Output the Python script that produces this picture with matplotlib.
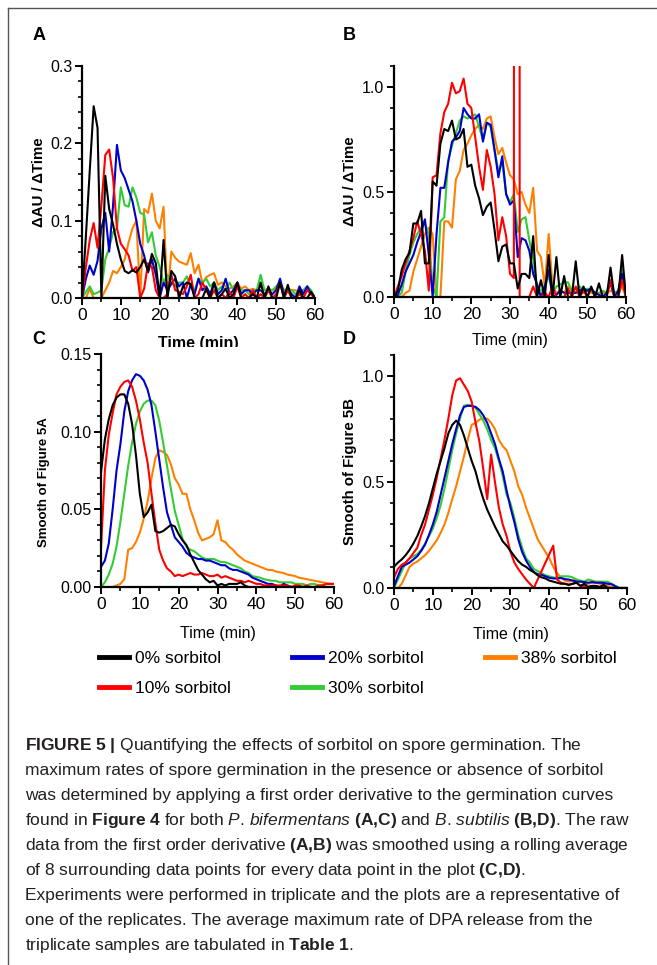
import numpy as np
import matplotlib
matplotlib.use("Agg")
import matplotlib.pyplot as plt
from matplotlib.lines import Line2D
from matplotlib.ticker import MultipleLocator, FormatStrFormatter
from matplotlib.transforms import Bbox, TransformedBbox

plt.rcParams['font.family'] = ['Liberation Sans', 'DejaVu Sans']
plt.rcParams['mathtext.fontset'] = 'custom'
plt.rcParams['mathtext.rm'] = 'Liberation Sans'
plt.rcParams['mathtext.it'] = 'Liberation Sans:italic'
plt.rcParams['mathtext.bf'] = 'Liberation Sans:bold'

W, H = 657, 965

time = np.arange(0, 61)  # minutes, one reading per minute

labels = ['0% sorbitol', '10% sorbitol', '20% sorbitol', '30% sorbitol', '38% sorbitol']
colors = ['#000000', '#ff0000', '#0000cc', '#33cc33', '#ff8000']

# --- A: first order derivative, P. bifermentans
a_0 = [0.0, 0.08, 0.165, 0.248, 0.22, 0.0, 0.158, 0.115, 0.095, 0.07,
       0.05, 0.035, 0.032, 0.036, 0.033, 0.04, 0.05, 0.035, 0.057, 0.045,
       0.0, 0.075, 0.0, 0.035, 0.028, 0.0, 0.015, 0.02, 0.018, 0.0,
       0.0, 0.0, 0.012, 0.0, 0.02, 0.0, 0.005, 0.012, 0.0, 0.005,
       0.02, 0.0, 0.0, 0.0, 0.005, 0.0, 0.02, 0.0, 0.015, 0.0,
       0.0, 0.02, 0.0, 0.017, 0.0, 0.0, 0.01, 0.0, 0.0, 0.008, 0.0]
a_10 = [0.0, 0.04, 0.075, 0.097, 0.065, 0.12, 0.185, 0.192, 0.155, 0.09,
        0.07, 0.063, 0.055, 0.035, 0.04, 0.0, 0.012, 0.045, 0.04, 0.01,
        0.0, 0.0, 0.005, 0.03, 0.01, 0.008, 0.005, 0.015, 0.03, 0.0,
        0.005, 0.02, 0.01, 0.0, 0.01, 0.0, 0.005, 0.0, 0.008, 0.0,
        0.015, 0.0, 0.005, 0.0, 0.01, 0.0, 0.005, 0.0, 0.01, 0.0,
        0.005, 0.02, 0.0, 0.01, 0.0, 0.0, 0.005, 0.0, 0.01, 0.005, 0.0]
a_20 = [0.0, 0.025, 0.042, 0.03, 0.048, 0.09, 0.11, 0.06, 0.12, 0.198,
        0.165, 0.155, 0.14, 0.125, 0.1, 0.07, 0.055, 0.033, 0.05, 0.03,
        0.0, 0.02, 0.01, 0.018, 0.025, 0.015, 0.02, 0.0, 0.018, 0.005,
        0.025, 0.01, 0.015, 0.005, 0.02, 0.005, 0.01, 0.025, 0.005, 0.01,
        0.02, 0.005, 0.01, 0.01, 0.005, 0.01, 0.01, 0.005, 0.01, 0.005,
        0.01, 0.025, 0.005, 0.01, 0.005, 0.0, 0.015, 0.005, 0.015, 0.005, 0.0]
a_30 = [0.0, 0.008, 0.015, 0.005, 0.007, 0.01, 0.05, 0.065, 0.085, 0.09,
        0.143, 0.12, 0.118, 0.143, 0.13, 0.11, 0.108, 0.072, 0.085, 0.055,
        0.04, 0.02, 0.03, 0.02, 0.015, 0.02, 0.02, 0.028, 0.015, 0.01,
        0.025, 0.02, 0.025, 0.015, 0.02, 0.01, 0.015, 0.01, 0.02, 0.01,
        0.015, 0.01, 0.01, 0.005, 0.01, 0.01, 0.03, 0.01, 0.01, 0.01,
        0.015, 0.02, 0.01, 0.01, 0.01, 0.005, 0.01, 0.01, 0.015, 0.01, 0.0]
a_38 = [0.0, 0.0, 0.012, 0.0, 0.0, 0.0, 0.01, 0.02, 0.035, 0.032,
        0.04, 0.05, 0.072, 0.09, 0.1, 0.0, 0.115, 0.11, 0.135, 0.1,
        0.09, 0.118, 0.0, 0.06, 0.052, 0.047, 0.045, 0.043, 0.058, 0.032,
        0.043, 0.019, 0.027, 0.03, 0.032, 0.017, 0.02, 0.015, 0.012, 0.015,
        0.02, 0.012, 0.015, 0.01, 0.012, 0.01, 0.015, 0.01, 0.012, 0.01,
        0.012, 0.015, 0.01, 0.012, 0.01, 0.01, 0.008, 0.01, 0.015, 0.005, 0.0]

# --- B: first order derivative, B. subtilis
b_0 = [0.0, 0.03, 0.13, 0.18, 0.21, 0.35, 0.35, 0.41, 0.16, 0.16,
       0.55, 0.53, 0.73, 0.8, 0.79, 0.84, 0.75, 0.76, 0.8, 0.62,
       0.63, 0.53, 0.47, 0.39, 0.43, 0.45, 0.32, 0.17, 0.24, 0.25,
       0.16, 0.16, 0.04, 0.11, 0.11, 0.09, 0.29, 0.0, 0.08, 0.0,
       0.2, 0.0, 0.19, 0.0, 0.1, 0.0, 0.0, 0.17, 0.0, 0.05,
       0.0, 0.05, 0.0, 0.065, 0.0, 0.0, 0.14, 0.0, 0.0, 0.2, 0.0]
# 10% has an off-scale spike between 31 and 32.5 min
b_10_time = list(range(0, 32)) + [31.3, 32.4, 32.5] + list(range(33, 61))
b_10 = [0.0, 0.05, 0.1, 0.16, 0.22, 0.28, 0.36, 0.3, 0.22, 0.03,
        0.57, 0.58, 0.78, 0.88, 0.92, 1.02, 0.97, 0.98, 1.04, 0.92,
        0.9, 0.76, 0.62, 0.51, 0.7, 0.62, 0.49, 0.27, 0.38, 0.29,
        0.11, 0.09,
        15.0, 15.0, 0.0,
        0.0, 0.0, 0.0, 0.05, 0.0, 0.0, 0.02,
        0.0, 0.05, 0.0, 0.0, 0.0, 0.04, 0.0, 0.05, 0.0, 0.03,
        0.0, 0.04, 0.0, 0.0, 0.0, 0.0, 0.08, 0.0, 0.0, 0.08, 0.0]
b_20 = [0.0, 0.01, 0.06, 0.12, 0.16, 0.2, 0.26, 0.31, 0.37, 0.2,
        0.0, 0.3, 0.52, 0.52, 0.64, 0.74, 0.76, 0.79, 0.9, 0.87,
        0.85, 0.85, 0.87, 0.74, 0.83, 0.82, 0.7, 0.57, 0.67, 0.49,
        0.44, 0.46, 0.19, 0.28, 0.27, 0.22, 0.11, 0.06, 0.0, 0.05,
        0.13, 0.0, 0.01, 0.03, 0.02, 0.02, 0.02, 0.02, 0.03, 0.04,
        0.03, 0.04, 0.02, 0.01, 0.0, 0.02, 0.065, 0.0, 0.03, 0.11, 0.0]
b_30 = [0.0, 0.0, 0.02, 0.12, 0.2, 0.26, 0.3, 0.33, 0.35, 0.3,
        0.05, 0.0, 0.36, 0.38, 0.65, 0.72, 0.78, 0.84, 0.86, 0.85,
        0.86, 0.87, 0.81, 0.75, 0.83, 0.81, 0.7, 0.6, 0.64, 0.49,
        0.45, 0.49, 0.31, 0.37, 0.38, 0.27, 0.18, 0.05, 0.03, 0.05,
        0.1, 0.02, 0.05, 0.06, 0.07, 0.07, 0.03, 0.04, 0.05, 0.03,
        0.04, 0.03, 0.02, 0.02, 0.03, 0.02, 0.08, 0.02, 0.03, 0.13, 0.0]
b_38 = [0.0, 0.0, 0.0, 0.02, 0.03, 0.12, 0.18, 0.24, 0.3, 0.33,
        0.3, 0.0, 0.0, 0.36, 0.36, 0.33, 0.56, 0.6, 0.7, 0.73,
        0.77, 0.8, 0.82, 0.8, 0.85, 0.86, 0.76, 0.68, 0.71, 0.64,
        0.58, 0.56, 0.49, 0.5, 0.44, 0.4, 0.52, 0.22, 0.19, 0.05,
        0.3, 0.05, 0.02, 0.03, 0.02, 0.05, 0.03, 0.02, 0.03, 0.02,
        0.03, 0.02, 0.02, 0.01, 0.02, 0.02, 0.03, 0.02, 0.02, 0.05, 0.0]

# --- C: rolling average of A
c_0 = [0.074, 0.095, 0.108, 0.117, 0.122, 0.124, 0.124, 0.118, 0.105, 0.085,
       0.06, 0.045, 0.048, 0.053, 0.036, 0.035, 0.036, 0.038, 0.04, 0.039,
       0.034, 0.03, 0.027, 0.021, 0.016, 0.011, 0.008, 0.005, 0.003, 0.004,
       0.001, 0.002, 0.001, 0.002, 0.002, 0.002, 0.003, 0.001, 0.0, 0.0,
       0.0, 0.0, 0.0, 0.0, 0.0, 0.0, 0.0, 0.0, 0.0, 0.0,
       0.0, 0.0, 0.0, 0.0, 0.0, 0.0, 0.0, 0.0, 0.0, 0.0, 0.0]
c_10 = [0.025, 0.075, 0.098, 0.112, 0.124, 0.129, 0.132, 0.133, 0.129, 0.12,
        0.108, 0.093, 0.08, 0.06, 0.041, 0.024, 0.017, 0.012, 0.01, 0.007,
        0.008, 0.007, 0.008, 0.009, 0.008, 0.008, 0.009, 0.008, 0.007, 0.007,
        0.008, 0.006, 0.007, 0.006, 0.005, 0.004, 0.004, 0.003, 0.004, 0.003,
        0.002, 0.002, 0.001, 0.001, 0.001, 0.001, 0.001, 0.001, 0.001, 0.0,
        0.001, 0.001, 0.0, 0.001, 0.0, 0.0, 0.001, 0.001, 0.002, 0.002, 0.002]
c_20 = [0.013, 0.017, 0.028, 0.05, 0.075, 0.092, 0.113, 0.126, 0.133, 0.137,
        0.136, 0.133, 0.127, 0.117, 0.1, 0.082, 0.064, 0.048, 0.04, 0.032,
        0.029, 0.026, 0.022, 0.02, 0.019, 0.018, 0.018, 0.017, 0.017, 0.016,
        0.015, 0.014, 0.014, 0.012, 0.011, 0.011, 0.01, 0.009, 0.008, 0.006,
        0.005, 0.004, 0.003, 0.002, 0.002, 0.001, 0.0, 0.002, 0.001, 0.0,
        0.0, 0.0, 0.0, 0.0, 0.0, 0.0, 0.0, 0.0, 0.0, 0.0, 0.0]
c_30 = [0.0, 0.003, 0.008, 0.015, 0.026, 0.042, 0.06, 0.078, 0.093, 0.105,
        0.113, 0.118, 0.12, 0.12, 0.117, 0.107, 0.093, 0.078, 0.063, 0.049,
        0.04, 0.031, 0.026, 0.024, 0.023, 0.021, 0.019, 0.018, 0.018, 0.018,
        0.017, 0.016, 0.016, 0.015, 0.014, 0.013, 0.012, 0.01, 0.009, 0.007,
        0.0065, 0.006, 0.005, 0.0045, 0.004, 0.004, 0.003, 0.003, 0.003, 0.003,
        0.002, 0.002, 0.002, 0.001, 0.002, 0.002, 0.001, 0.001, 0.0, 0.0, 0.0]
c_38 = [0.0, 0.0, 0.0, 0.0, 0.001, 0.002, 0.005, 0.024, 0.025, 0.029,
        0.035, 0.044, 0.055, 0.07, 0.083, 0.088, 0.087, 0.085, 0.079, 0.07,
        0.066, 0.06, 0.06, 0.05, 0.043, 0.035, 0.03, 0.031, 0.032, 0.034,
        0.043, 0.03, 0.029, 0.026, 0.024, 0.021, 0.019, 0.017, 0.016, 0.015,
        0.014, 0.013, 0.012, 0.011, 0.011, 0.01, 0.0095, 0.009, 0.008, 0.0075,
        0.007, 0.006, 0.0055, 0.005, 0.0045, 0.004, 0.0035, 0.003, 0.0025, 0.002, 0.002]

# --- D: rolling average of B
d_0 = [0.1, 0.12, 0.135, 0.155, 0.18, 0.21, 0.245, 0.29, 0.34, 0.4,
       0.47, 0.54, 0.6, 0.66, 0.73, 0.77, 0.79, 0.77, 0.72, 0.66,
       0.6, 0.55, 0.48, 0.42, 0.37, 0.33, 0.29, 0.255, 0.22, 0.2,
       0.175, 0.15, 0.127, 0.11, 0.1, 0.085, 0.075, 0.06, 0.05, 0.045,
       0.035, 0.03, 0.025, 0.02, 0.02, 0.015, 0.02, 0.025, 0.01, 0.02,
       0.005, 0.01, 0.01, 0.005, 0.015, 0.0, 0.0, 0.0, 0.0, 0.0, 0.0]
d_10 = [0.05, 0.09, 0.11, 0.12, 0.14, 0.165, 0.19, 0.25, 0.3, 0.37,
        0.44, 0.52, 0.61, 0.7, 0.8, 0.91, 0.98, 0.99, 0.96, 0.93,
        0.88, 0.78, 0.69, 0.56, 0.42, 0.63, 0.5, 0.38, 0.3, 0.245,
        0.17, 0.12, 0.09, 0.065, 0.04, 0.02, 0.0, 0.04, 0.08, 0.12,
        0.16, 0.2, 0.04, 0.025, 0.02, 0.015, 0.02, 0.025, 0.01, 0.01,
        0.005, 0.01, 0.005, 0.005, 0.01, 0.0, 0.0, 0.0, 0.0, 0.0, 0.0]
d_20 = [0.008, 0.055, 0.1, 0.11, 0.12, 0.135, 0.15, 0.175, 0.205, 0.25,
        0.3, 0.36, 0.44, 0.52, 0.6, 0.68, 0.75, 0.815, 0.855, 0.86,
        0.86, 0.855, 0.84, 0.815, 0.78, 0.73, 0.68, 0.61, 0.55, 0.46,
        0.38, 0.31, 0.23, 0.17, 0.13, 0.1, 0.075, 0.065, 0.062, 0.055,
        0.048, 0.045, 0.045, 0.047, 0.042, 0.04, 0.035, 0.03, 0.03, 0.028,
        0.025, 0.028, 0.025, 0.025, 0.024, 0.02, 0.018, 0.008, 0.0, 0.0, 0.0]
d_30 = [0.0, 0.04, 0.08, 0.12, 0.14, 0.15, 0.16, 0.18, 0.21, 0.245,
        0.28, 0.33, 0.39, 0.47, 0.56, 0.65, 0.73, 0.8, 0.86, 0.865,
        0.86, 0.85, 0.82, 0.79, 0.75, 0.7, 0.66, 0.6, 0.53, 0.44,
        0.4, 0.33, 0.25, 0.19, 0.14, 0.12, 0.09, 0.08, 0.07, 0.06,
        0.055, 0.05, 0.047, 0.055, 0.055, 0.055, 0.05, 0.04, 0.035, 0.03,
        0.04, 0.035, 0.03, 0.03, 0.03, 0.03, 0.02, 0.01, 0.0, 0.0, 0.0]
d_38 = [0.0, 0.0, 0.02, 0.06, 0.1, 0.115, 0.125, 0.14, 0.155, 0.175,
        0.2, 0.225, 0.26, 0.3, 0.355, 0.42, 0.48, 0.55, 0.62, 0.7,
        0.77, 0.78, 0.795, 0.8, 0.8, 0.78, 0.75, 0.7, 0.67, 0.65,
        0.6, 0.55, 0.48, 0.44, 0.38, 0.33, 0.28, 0.23, 0.2, 0.17,
        0.14, 0.1, 0.07, 0.05, 0.035, 0.03, 0.035, 0.04, 0.03, 0.025,
        0.02, 0.025, 0.025, 0.02, 0.015, 0.01, 0.005, 0.0, 0.0, 0.0, 0.0]

caption_lines = [
    r"$\mathbf{FIGURE\ 5\ |}$ Quantifying the effects of sorbitol on spore germination. The",
    "maximum rates of spore germination in the presence or absence of sorbitol",
    "was determined by applying a first order derivative to the germination curves",
    r"found in $\mathbf{Figure\ 4}$ for both $\mathit{P}$. $\mathit{bifermentans}$ $\mathbf{(A{,}C)}$ and "
    r"$\mathit{B}$. $\mathit{subtilis}$ $\mathbf{(B{,}D)}$. The raw",
    r"data from the first order derivative $\mathbf{(A{,}B)}$ was smoothed using a rolling average",
    r"of 8 surrounding data points for every data point in the plot $\mathbf{(C{,}D)}$.",
    "Experiments were performed in triplicate and the plots are a representative of",
    "one of the replicates. The average maximum rate of DPA release from the",
    r"triplicate samples are tabulated in $\mathbf{Table\ 1}$.",
]


def px_axes(fig, left, top, right, bottom):
    return fig.add_axes([left / W, 1 - bottom / H, (right - left) / W, (bottom - top) / H])


def style_axes(ax, ymax, ymajor, yminor, yfmt):
    ax.set_xlim(0, 60)
    ax.set_ylim(0, ymax)
    ax.xaxis.set_major_locator(MultipleLocator(10))
    ax.xaxis.set_minor_locator(MultipleLocator(5))
    ax.yaxis.set_major_locator(MultipleLocator(ymajor))
    ax.yaxis.set_minor_locator(MultipleLocator(yminor))
    ax.yaxis.set_major_formatter(FormatStrFormatter(yfmt))
    for side in ['top', 'right']:
        ax.spines[side].set_visible(False)
    for side in ['left', 'bottom']:
        ax.spines[side].set_linewidth(1.6)
    ax.tick_params(which='major', direction='out', length=5, width=1.4, pad=2)
    ax.tick_params(which='minor', direction='out', length=3, width=1.2)
    ax.tick_params(axis='x', labelsize=12.5)
    ax.tick_params(axis='y', labelsize=11.5)
    ax.patch.set_alpha(0)


def draw_series(ax, series, times_list):
    # draw from highest concentration up so black ends on top
    for ys, ts, c in reversed(list(zip(series, times_list, colors))):
        ax.plot(ts, ys, color=c, lw=1.5, clip_on=True)


fig = plt.figure(figsize=(W / 100, H / 100), dpi=100)

ax_a = px_axes(fig, 82, 66, 315, 298)
ax_b = px_axes(fig, 394, 66, 626, 297)
ax_c = px_axes(fig, 101, 354, 334, 587)
ax_d = px_axes(fig, 394, 355, 627, 588)

draw_series(ax_a, [a_0, a_10, a_20, a_30, a_38], [time] * 5)
draw_series(ax_b, [b_0, b_10, b_20, b_30, b_38], [time, b_10_time, time, time, time])
draw_series(ax_c, [c_0, c_10, c_20, c_30, c_38], [time] * 5)
draw_series(ax_d, [d_0, d_10, d_20, d_30, d_38], [time] * 5)

style_axes(ax_a, 0.3, 0.1, 0.02, '%.1f')
style_axes(ax_b, 1.1, 0.5, 0.1, '%.1f')
style_axes(ax_c, 0.15, 0.05, 0.01, '%.2f')
style_axes(ax_d, 1.1, 0.5, 0.1, '%.1f')

# y labels (label coords give the right-hand edge of the rotated text)
ax_a.set_ylabel('ΔAU / ΔTime', fontsize=10.8, fontweight='bold')
ax_a.yaxis.set_label_coords(-0.155, 0.5)
ax_b.set_ylabel('ΔAU / ΔTime', fontsize=10.8, fontweight='bold')
ax_b.yaxis.set_label_coords(-0.16, 0.5)
ax_c.set_ylabel('Smooth of Figure 5A', fontsize=9.5, fontweight='bold')
ax_c.yaxis.set_label_coords(-0.219, 0.45)
ax_d.set_ylabel('Smooth of Figure 5B', fontsize=10.8, fontweight='bold')
ax_d.yaxis.set_label_coords(-0.159, 0.5)

# x labels; the one under A is partly hidden by panel C in the original
xl = ax_a.set_xlabel('Time (min)', fontsize=11.5, fontweight='bold')
ax_a.xaxis.set_label_coords(0.5, -0.163)
xl.set_clip_box(TransformedBbox(Bbox([[0, 1 - 347 / H], [1, 1]]), fig.transFigure))
xl.set_clip_on(True)
ax_b.set_xlabel('Time (min)', fontsize=11.5)
ax_b.xaxis.set_label_coords(0.5, -0.156)
ax_c.set_xlabel('Time (min)', fontsize=11.5)
ax_c.xaxis.set_label_coords(0.5, -0.167)
ax_d.set_xlabel('Time (min)', fontsize=11.5)
ax_d.xaxis.set_label_coords(0.5, -0.167)

# panel letters
for letter, (x, y) in zip('ABCD', [(33, 35), (343, 35), (32, 339), (343, 339)]):
    fig.text(x / W, 1 - y / H, letter, fontsize=13, fontweight='bold', va='center')

handles = [Line2D([], [], color=c, lw=3.5) for c in colors]
fig.legend(handles, labels, loc='upper left', bbox_to_anchor=(99 / W, 1 - 651 / H),
           ncol=3, frameon=False, fontsize=12.5, handlelength=1.7, handletextpad=0.35,
           columnspacing=3.55, labelspacing=0.85, borderpad=0, borderaxespad=0)

for i, line in enumerate(caption_lines):
    fig.text(25 / W, 1 - (750 + 25 * i) / H, line, fontsize=12.5, va='baseline', color='#231f20')

# page frame (left and top edges only are visible)
fig.add_artist(Line2D([8 / W, 8 / W], [0, 1 - 8 / H], transform=fig.transFigure, color='#555555', lw=1))
fig.add_artist(Line2D([8 / W, 1], [1 - 8 / H, 1 - 8 / H], transform=fig.transFigure, color='#555555', lw=1))

fig.savefig('out.png', dpi=100)
plt.close()
